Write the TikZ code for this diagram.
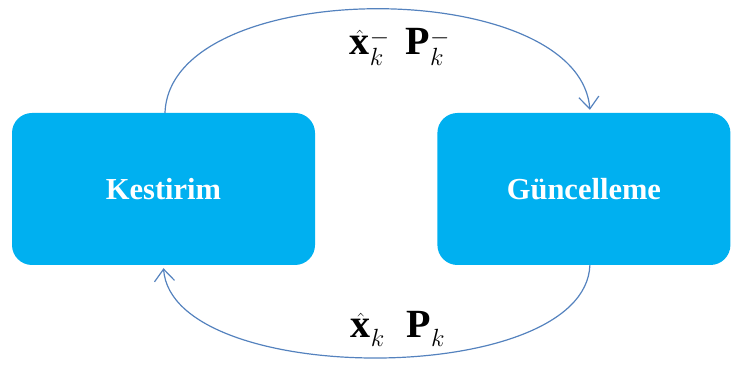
\documentclass[tikz,border=0pt]{standalone}
\usepackage{fontspec}
\setmainfont{Liberation Serif}
\usetikzlibrary{arrows.meta,positioning}
\definecolor{boxcyan}{RGB}{0,176,240}
\definecolor{arcblue}{RGB}{84,130,190}
\tikzset{
	box/.style={fill=boxcyan, rounded corners=20pt, align=center, minimum height=152pt, text=white, font=\fontsize{30.5}{34}\selectfont\bfseries},
	flow/.style={-{Straight Barb[length=12pt, width=20pt, line width=1.2pt]}, draw=arcblue, line width=1.2pt},
	statelbl/.style={font=\fontsize{40}{44}\selectfont}
}

\begin{document}
\begin{tikzpicture}[x=1pt, y=1pt]
	\useasboundingbox (0,0) rectangle (731,369);
	\node[box, minimum width=303pt] (kest) at (163.5,180) {Kestirim};
	\node[box, right=122pt of kest, minimum width=293pt] (guncel) {Güncelleme};
	\draw[flow] ([xshift=1.5pt]kest.north) .. controls +(5,138) and +(-11,135) .. ([xshift=6pt,yshift=3pt]guncel.north);
	\draw[flow] ([xshift=6pt]guncel.south) .. controls +(-5,-123) and +(9,-120) .. ([yshift=-3pt]kest.south);
	\node[statelbl] (prior) at (400,322) {$\hat{\mathbf{x}}_k^-\hspace{16pt}\mathbf{P}_k^-$};
	\node[statelbl] (post) at (398,40) {$\hat{\mathbf{x}}_k\hspace{22pt}\mathbf{P}_k$};
\end{tikzpicture}
\end{document}
